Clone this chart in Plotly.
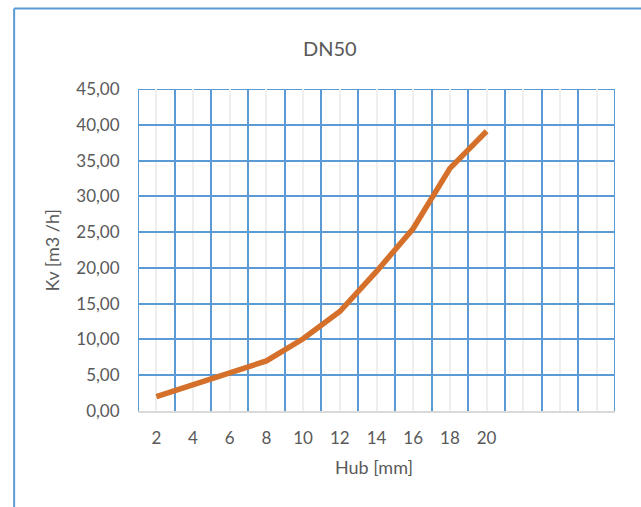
import plotly.graph_objects as go

hub = [2, 4, 6, 8, 10, 12, 14, 16, 18, 20]
kv = [2.0, 3.7, 5.4, 7.0, 10.1, 13.9, 19.5, 25.5, 33.9, 39.1]
x_tickvals = [2, 4, 6, 8, 10, 12, 14, 16, 18, 20, 22, 24, 26]
x_ticktext = ["2", "4", "6", "8", "10", "12", "14", "16", "18", "20", "", "", ""]
y_tickvals = [0, 5, 10, 15, 20, 25, 30, 35, 40, 45]
x_range = [1, 27]
y_range = [0, 45]

W, H = 641, 507
L, R, T, B = 137.5, 26, 89, 96
pw = W - L - R
ph = H - T - B

def px2paper_x(px):
    return (px - L) / pw

def px2paper_y(py):
    return (H - B - py) / ph

BLUE = "#5B9BD5"
TXT = "#595959"
FONT = "Lato, Carlito, Calibri, sans-serif"

fig = go.Figure()
fig.add_trace(go.Scatter(
    x=hub, y=kv, mode="lines",
    line=dict(color="#D4702A", width=5.5),
    hoverinfo="skip", showlegend=False,
))

frame = dict(color=BLUE, width=2)
fig.update_layout(
    width=W, height=H,
    margin=dict(l=L, r=R, t=T, b=B, pad=0),
    paper_bgcolor="white", plot_bgcolor="white",
    separators=",.",
    font=dict(family=FONT, color=TXT, size=17),
    showlegend=False,
    xaxis=dict(
        range=x_range, tickmode="array", tickvals=x_tickvals, ticktext=x_ticktext,
        showgrid=True, gridcolor="#EEEEEE", gridwidth=2,
        minor=dict(tickmode="linear", tick0=1, dtick=2, showgrid=True,
                   gridcolor=BLUE, gridwidth=2, ticks=""),
        showline=True, linecolor="#D9D9D9", linewidth=2,
        zeroline=False, ticks="outside", ticklen=11, tickcolor="rgba(0,0,0,0)",
        tickfont=dict(size=17, color=TXT, family=FONT),
        fixedrange=True,
    ),
    yaxis=dict(
        range=y_range, tickmode="array", tickvals=y_tickvals, tickformat=".2f",
        showgrid=True, gridcolor=BLUE, gridwidth=2,
        zeroline=False, showline=False,
        ticks="outside", ticklen=14, tickcolor="rgba(0,0,0,0)",
        tickfont=dict(size=17, color=TXT, family=FONT),
        fixedrange=True,
    ),
    annotations=[
        dict(text="DN50", x=px2paper_x(330), y=px2paper_y(48), xref="paper", yref="paper",
             showarrow=False, font=dict(size=20, color=TXT, family=FONT),
             xanchor="center", yanchor="middle"),
        dict(text="Hub [mm]", x=px2paper_x(374), y=px2paper_y(467), xref="paper", yref="paper",
             showarrow=False, font=dict(size=18, color=TXT, family=FONT),
             xanchor="center", yanchor="middle"),
        dict(text="Kv [m3 /h]", x=px2paper_x(51), y=px2paper_y(250), xref="paper", yref="paper",
             showarrow=False, textangle=-90, font=dict(size=18, color=TXT, family=FONT),
             xanchor="center", yanchor="middle"),
    ],
    shapes=[
        dict(type="line", xref="x", yref="y", x0=x_range[0], x1=x_range[0],
             y0=y_range[0], y1=y_range[1], line=frame, layer="below"),
        dict(type="line", xref="x", yref="y", x0=x_range[1], x1=x_range[1],
             y0=y_range[0], y1=y_range[1], line=frame, layer="below"),
        dict(type="line", xref="x", yref="y", x0=x_range[0], x1=x_range[1],
             y0=y_range[1], y1=y_range[1], line=frame, layer="below"),
        dict(type="line", xref="paper", yref="paper",
             x0=px2paper_x(13.5), x1=px2paper_x(13.5), y0=px2paper_y(8.5), y1=px2paper_y(520),
             line=dict(color=BLUE, width=2)),
        dict(type="line", xref="paper", yref="paper",
             x0=px2paper_x(13.5), x1=px2paper_x(660), y0=px2paper_y(8.5), y1=px2paper_y(8.5),
             line=dict(color=BLUE, width=2)),
    ],
)

fig.write_html("out.html", config=dict(displayModeBar=False))
